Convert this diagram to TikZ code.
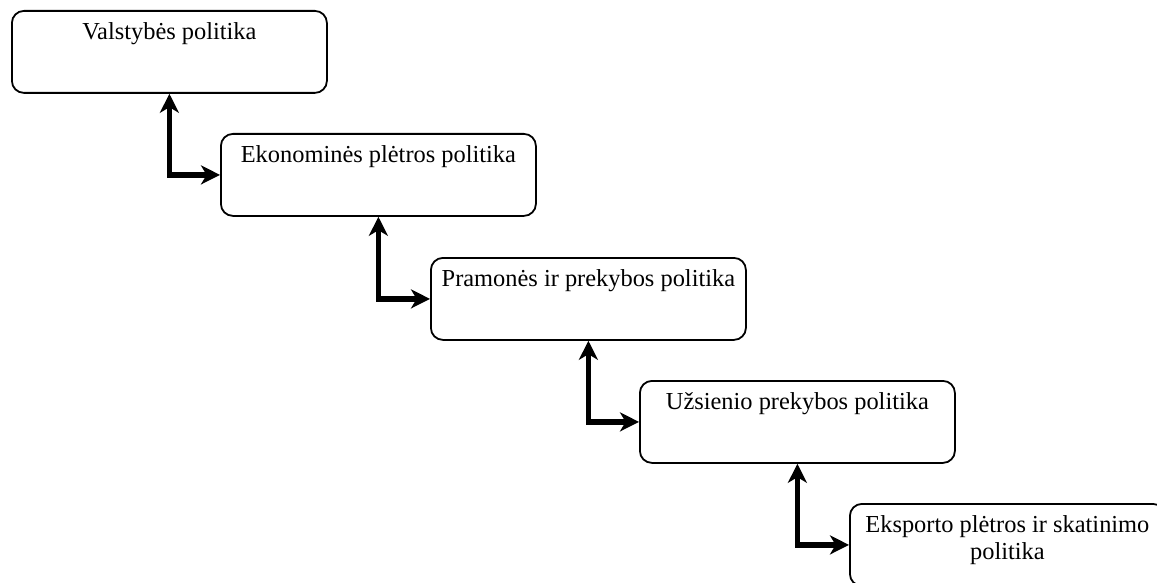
\documentclass[tikz,border=0pt]{standalone}
\usepackage{fontspec}
\setmainfont{Liberation Serif}
\usepackage{tikz}
\usetikzlibrary{arrows.meta, positioning}

\tikzset{
  polbox/.style={draw, line width=0.9pt, rounded corners=6pt, minimum width=157.5pt,
                 minimum height=41pt, inner sep=0pt, anchor=north west},
  poltext/.style={anchor=north, align=center, inner sep=0pt, yshift=-6pt,
                  font=\fontsize{12.2}{13.4}\selectfont},
  polarrow/.style={line width=2.8pt,
                   {Stealth[length=9.5pt, width=9.5pt, inset=2.8pt]}-{Stealth[length=9.5pt, width=9.5pt, inset=2.8pt]}}
}

\begin{document}
\begin{tikzpicture}[x=0.5pt, y=-0.5pt]
    \useasboundingbox (0,0) rectangle (1157,583);
    \clip (0,0) rectangle (1157,583);

    % boxes, one step down and right each
    \node[polbox] (valst) at (11,10) {};
    \node[polbox] (ekon)  at (220,133) {};
    \node[polbox] (pram)  at (430,257) {};
    \node[polbox] (uzs)   at (639,380) {};
    \node[polbox] (eksp)  at (849,503) {};

    \node[poltext] (valsttxt) at (valst.north) {Valstybės politika};
    \node[poltext] (ekontxt)  at (ekon.north)  {Ekonominės plėtros politika};
    \node[poltext] (pramtxt)  at (pram.north)  {Pramonės ir prekybos politika};
    \node[poltext] (uzstxt)   at (uzs.north)   {Užsienio prekybos politika};
    \node[poltext] (eksptxt)  at (eksp.north)  {Eksporto plėtros ir skatinimo\\politika};

    % links
    \draw[polarrow] (valst.south) |- (ekon.west);
    \draw[polarrow] (ekon.south)  |- (pram.west);
    \draw[polarrow] (pram.south)  |- (uzs.west);
    \draw[polarrow] (uzs.south)   |- (eksp.west);
\end{tikzpicture}
\end{document}
